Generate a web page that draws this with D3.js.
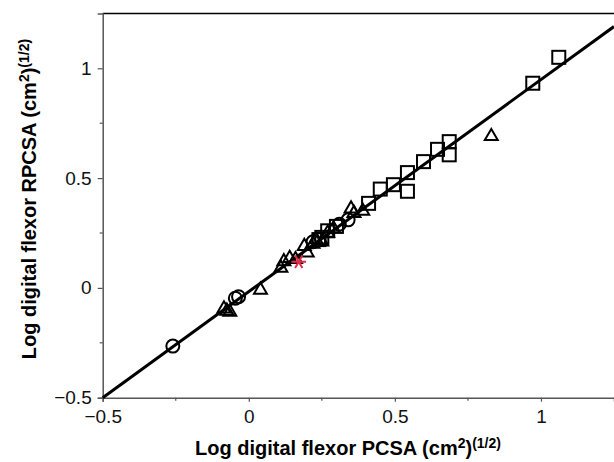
<!DOCTYPE html>
<html>
<head>
<meta charset="utf-8">
<script src="https://cdn.jsdelivr.net/npm/d3@7"></script>
<style>
  body { margin: 0; background: #fff; }
  svg text { font-family: "Liberation Sans", Arial, sans-serif; }
</style>
</head>
<body>
<div id="chart"></div>
<script>
// points, [x, y] in log units
const squarePts = [
  [0.24, 0.22], [0.25, 0.23], [0.27, 0.26], [0.30, 0.28], [0.41, 0.385], [0.45, 0.45],
  [0.495, 0.47], [0.543, 0.44], [0.543, 0.525], [0.598, 0.575], [0.646, 0.631],
  [0.686, 0.666], [0.686, 0.606], [0.972, 0.932], [1.061, 1.050]
];
const trianglePts = [
  [-0.085, -0.095], [-0.075, -0.105], [-0.065, -0.11], [0.04, -0.01],
  [0.11, 0.09], [0.12, 0.12], [0.14, 0.135], [0.16, 0.13], [0.19, 0.19],
  [0.20, 0.16], [0.22, 0.20], [0.23, 0.22], [0.25, 0.21], [0.27, 0.25],
  [0.29, 0.27], [0.35, 0.36], [0.36, 0.34], [0.39, 0.35], [0.83, 0.69]
];
const circlePts = [
  [-0.26, -0.265], [-0.046, -0.047], [-0.035, -0.040], [0.22, 0.21], [0.24, 0.22],
  [0.31, 0.29], [0.34, 0.31]
];
const starPts = [[0.171, 0.119]];

// regression line end points
const fitX = [-0.5, 1.25];
const fitY = [-0.5, 1.19];

const majorTicks = [-0.5, 0, 0.5, 1];
const minorTicks = [-0.25, 0.25, 0.75];

const W = 614, H = 462;
const mLeft = 102.7, mRight = 614, mTop = 13.4, mBottom = 397.7;

const svg = d3.select("#chart").append("svg")
  .attr("width", W).attr("height", H);

const x = d3.scaleLinear().domain([-0.5, 1.25]).range([mLeft, mRight]);
const y = d3.scaleLinear().domain([-0.5, 1.25]).range([mBottom, mTop]);

const fmt = d => d === 0 ? "0" : d3.format("")(d).replace("-", "\u2212");

// top frame
svg.append("line")
  .attr("x1", mLeft).attr("x2", mRight).attr("y1", mTop).attr("y2", mTop)
  .attr("stroke", "#000").attr("stroke-width", 1.5);

// bottom axis
const xAxis = svg.append("g")
  .attr("transform", `translate(0,${mBottom})`)
  .call(d3.axisBottom(x).tickValues(majorTicks).tickFormat(fmt).tickSize(4).tickPadding(8));
xAxis.append("g").selectAll("line").data(minorTicks).join("line")
  .attr("x1", d => x(d)).attr("x2", d => x(d)).attr("y1", 0).attr("y2", 3);

// left axis
const yAxis = svg.append("g")
  .attr("transform", `translate(${mLeft},0)`)
  .call(d3.axisLeft(y).tickValues(majorTicks).tickFormat(fmt).tickSize(5).tickPadding(6));
yAxis.append("g").selectAll("line").data(minorTicks).join("line")
  .attr("x1", 0).attr("x2", -3).attr("y1", d => y(d)).attr("y2", d => y(d));

[xAxis, yAxis].forEach(g => {
  g.select(".domain").attr("stroke", "#555").attr("stroke-width", 1.5);
  g.selectAll("line").attr("stroke", "#555").attr("stroke-width", 1.2);
  g.selectAll("text").attr("font-size", 19).attr("fill", "#111");
});

// fit line
svg.append("path")
  .datum(d3.zip(fitX, fitY))
  .attr("d", d3.line().x(d => x(d[0])).y(d => y(d[1])))
  .attr("fill", "none").attr("stroke", "#000").attr("stroke-width", 3);

// markers
const plot = svg.append("g").attr("fill", "none").attr("stroke", "#000").attr("stroke-width", 2);

plot.selectAll(".sq").data(squarePts).join("rect")
  .attr("class", "sq")
  .attr("x", d => x(d[0]) - 6.5).attr("y", d => y(d[1]) - 6.5)
  .attr("width", 13).attr("height", 13);

const tri = d3.symbol().type(d3.symbolTriangle2).size(120);
plot.selectAll(".tri").data(trianglePts).join("path")
  .attr("class", "tri")
  .attr("transform", d => `translate(${x(d[0])},${y(d[1])})`)
  .attr("d", tri);

plot.selectAll(".ci").data(circlePts).join("circle")
  .attr("class", "ci")
  .attr("cx", d => x(d[0])).attr("cy", d => y(d[1])).attr("r", 6.5);

plot.selectAll(".st").data(starPts).join("path")
  .attr("class", "st")
  .attr("transform", d => `translate(${x(d[0])},${y(d[1])}) rotate(90)`)
  .attr("d", d3.symbol().type(d3.symbolAsterisk).size(150))
  .attr("stroke", "#e8294a");

// axis titles
const xt = svg.append("text")
  .attr("x", 348).attr("y", 455)
  .attr("text-anchor", "middle")
  .attr("font-size", 20).attr("font-weight", "bold");
xt.append("tspan").text("Log digital flexor PCSA (cm");
xt.append("tspan").attr("font-size", 14).attr("dy", -7).text("2");
xt.append("tspan").attr("dy", 7).text(")");
xt.append("tspan").attr("font-size", 14).attr("dy", -7).text("(1/2)");

const yt = svg.append("text")
  .attr("transform", `translate(36,199) rotate(-90)`)
  .attr("text-anchor", "middle")
  .attr("font-size", 20).attr("font-weight", "bold");
yt.append("tspan").text("Log digital flexor RPCSA (cm");
yt.append("tspan").attr("font-size", 14).attr("dy", -7).text("2");
yt.append("tspan").attr("dy", 7).text(")");
yt.append("tspan").attr("font-size", 14).attr("dy", -7).text("(1/2)");
</script>
</body>
</html>
